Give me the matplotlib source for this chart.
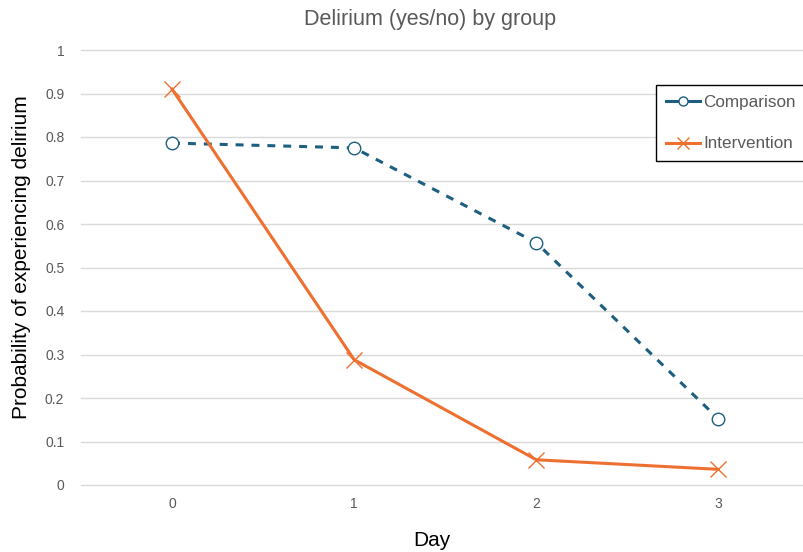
import matplotlib
matplotlib.use('Agg')
import matplotlib.pyplot as plt
from matplotlib.lines import Line2D
from matplotlib.patches import Rectangle

days = [0, 1, 2, 3]
comparison = [0.786, 0.775, 0.557, 0.152]
intervention = [0.910, 0.288, 0.058, 0.036]
y_ticks = [0, 0.1, 0.2, 0.3, 0.4, 0.5, 0.6, 0.7, 0.8, 0.9, 1]
y_tick_labels = ['0', '0.1', '0.2', '0.3', '0.4', '0.5', '0.6', '0.7', '0.8', '0.9', '1']

blue = '#1D5F80'
orange = '#EE7030'
gray = '#595959'

plt.rcParams['font.family'] = ['Liberation Sans', 'DejaVu Sans']

W, H = 804, 552
fig = plt.figure(figsize=(W / 100, H / 100), dpi=100)
ax = fig.add_axes([81/W, 1 - 485/H, (W - 81)/W, (485 - 50)/H])

ax.plot(days, comparison, color=blue, lw=2.2, ls=(0, (2.6, 2.6)),
        marker='o', ms=9, mfc='white', mec=blue, mew=1.0, label='Comparison', zorder=3)
ax.plot(days, intervention, color=orange, lw=2.2,
        marker='x', ms=11, mec=orange, mew=1.0, label='Intervention', zorder=3)

ax.set_xlim(-0.5, 3.47)
ax.set_ylim(0, 1)
ax.set_xticks(days)
ax.set_xticklabels([str(d) for d in days])
ax.set_yticks(y_ticks)
ax.set_yticklabels(y_tick_labels)
ax.tick_params(length=0, labelsize=10, colors=gray, pad=12)
ax.tick_params(axis='x', pad=9)
ax.yaxis.grid(True, color='#D9D9D9', lw=1)
for gl in ax.get_ygridlines():
    gl.set_clip_on(False)
ax.set_axisbelow(True)
for s in ax.spines.values():
    s.set_visible(False)

fig.text(430/W, 1 - 20/H, 'Delirium (yes/no) by group',
         ha='center', va='center', fontsize=15.5, color=gray)
fig.text(22/W, 1 - 257/H, 'Probability of experiencing delirium', rotation=90,
         ha='center', va='center', fontsize=15, color='black')
fig.text(432/W, 1 - 540/H, 'Day', ha='center', va='center', fontsize=15, color='black')

# legend: frame drawn by hand so it runs off the right edge like the original
ax.add_patch(Rectangle((655.5/W, 1 - 161/H), 160/W, 76/H, transform=fig.transFigure,
                       clip_on=False, facecolor='white', edgecolor='black', lw=1.0, zorder=5))
handles = [
    Line2D([], [], color=blue, lw=2.2, ls='-', marker='o', ms=6.5,
           mfc='white', mec=blue, mew=1.0),
    Line2D([], [], color=orange, lw=2.2, marker='x', ms=8, mec=orange, mew=1.0),
]
leg = ax.legend(handles, ['Comparison', 'Intervention'], loc='upper left',
                bbox_to_anchor=(666/W, 1 - 95/H), bbox_transform=fig.transFigure,
                fontsize=12.3, frameon=False,
                handlelength=2.0, handletextpad=0.2, labelspacing=1.55,
                borderpad=0, borderaxespad=0)
leg.set_zorder(6)
for t in leg.get_texts():
    t.set_color(gray)

fig.savefig('out.png', dpi=100)
